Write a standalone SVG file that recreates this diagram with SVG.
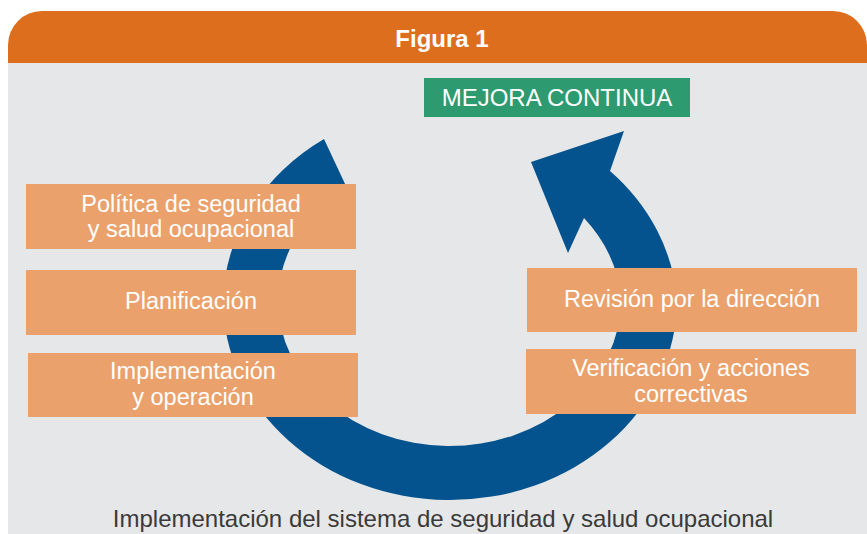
<svg xmlns="http://www.w3.org/2000/svg" width="867" height="534" viewBox="0 0 867 534">
  <style>
    .box { fill: #EBA16B; }
    .lbl { font-family: "Liberation Sans", Arial, sans-serif; font-size: 23.5px; fill: #FFFFFF; text-anchor: middle; }
    .arrow { fill: #04538F; }
  </style>
  <rect x="0" y="0" width="867" height="534" fill="#FFFFFF"/>
  <g id="panel">
    <rect x="8" y="50" width="859" height="484" fill="#E6E7E8"/>
    <path d="M8,63 L8,45 A34,34 0 0 1 42,11 L833,11 A34,34 0 0 1 867,45 L867,63 Z" fill="#DD6E1D"/>
    <text x="442" y="47" font-family="Liberation Sans, Arial, sans-serif" font-size="24" font-weight="bold" fill="#FFFFFF" text-anchor="middle">Figura 1</text>
  </g>
  <g id="connectors">
    <path class="arrow" d="M447,500 A227,200 0 0 1 223,300 A227,200 0 0 1 324,139 L346,186 A172,146 0 0 0 278,300 A172,146 0 0 0 447,446 Z"/>
    <path class="arrow" d="M447,500 A227,200 0 0 0 677,300 A227,200 0 0 0 610,171 L624,131 L531,162 L568,253 L584,218 A172,146 0 0 1 621,300 A172,146 0 0 1 447,446 Z"/>
  </g>
  <g id="mejora-continua">
    <rect x="424" y="78" width="266" height="39" fill="#2D9A6F"/>
    <text x="557" y="106" font-family="Liberation Sans, Arial, sans-serif" font-size="24" fill="#FFFFFF" text-anchor="middle">MEJORA CONTINUA</text>
  </g>
  <g id="politica">
    <rect class="box" x="26" y="184" width="330" height="65"/>
    <text class="lbl" x="191" y="212">Política de seguridad</text>
    <text class="lbl" x="191" y="237">y salud ocupacional</text>
  </g>
  <g id="planificacion">
    <rect class="box" x="26" y="270" width="330" height="65"/>
    <text class="lbl" x="191" y="309">Planificación</text>
  </g>
  <g id="implementacion">
    <rect class="box" x="28" y="353" width="330" height="64"/>
    <text class="lbl" x="193" y="379">Implementación</text>
    <text class="lbl" x="193" y="405">y operación</text>
  </g>
  <g id="revision">
    <rect class="box" x="527" y="268" width="330" height="64"/>
    <text class="lbl" x="692" y="307">Revisión por la dirección</text>
  </g>
  <g id="verificacion">
    <rect class="box" x="526" y="349" width="330" height="65"/>
    <text class="lbl" x="691" y="376">Verificación y acciones</text>
    <text class="lbl" x="691" y="402">correctivas</text>
  </g>
  <g id="caption">
    <text x="443" y="527" font-family="Liberation Sans, Arial, sans-serif" font-size="24" fill="#3A3A3A" text-anchor="middle">Implementación del sistema de seguridad y salud ocupacional</text>
  </g>
</svg>
